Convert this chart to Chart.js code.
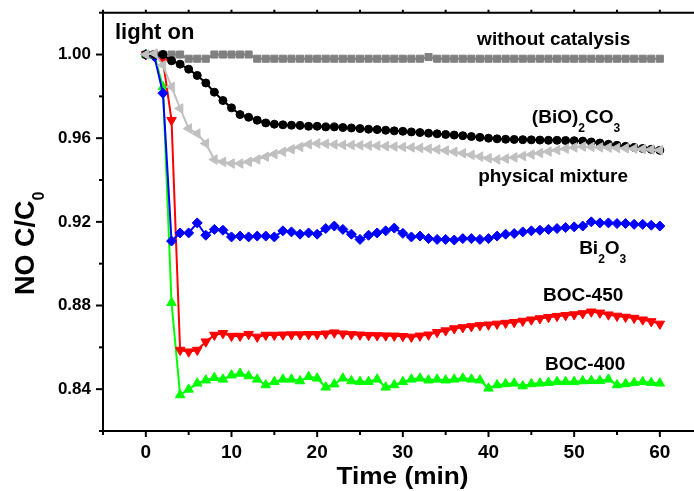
<!DOCTYPE html>
<html><head><meta charset="utf-8">
<script src="https://cdn.jsdelivr.net/npm/chart.js@4.4.1/dist/chart.umd.min.js"></script>
<style>html,body{margin:0;padding:0;background:#fff;overflow:hidden}canvas{display:block}</style>
</head><body>
<canvas id="c" width="694" height="491"></canvas>
<script>
const timeMin = [0,1,2,3,4,5,6,7,8,9,10,11,12,13,14,15,16,17,18,19,20,21,22,23,24,25,26,27,28,29,30,31,32,33,34,35,36,37,38,39,40,41,42,43,44,45,46,47,48,49,50,51,52,53,54,55,56,57,58,59,60];

const withoutCatalysis = [1.000,1.000,1.000,1.000,1.000,0.998,0.998,0.998,1.000,1.000,1.000,1.000,1.000,0.998,0.998,0.998,0.998,0.998,0.998,0.998,0.998,0.998,0.998,0.998,0.998,0.998,0.998,0.998,0.998,0.998,0.998,0.998,0.998,0.9988,0.998,0.998,0.998,0.998,0.998,0.998,0.998,0.998,0.998,0.998,0.998,0.998,0.998,0.998,0.998,0.998,0.998,0.998,0.998,0.998,0.998,0.998,0.998,0.998,0.998,0.998,0.998];

const bioCO3 = [1.000,1.000,1.000,0.997,0.9954,0.993,0.990,0.9864,0.982,0.978,0.9745,0.9713,0.970,0.9686,0.9673,0.9667,0.9664,0.9662,0.9661,0.9657,0.9657,0.9654,0.9654,0.9651,0.9649,0.9646,0.9643,0.9641,0.9638,0.9635,0.9633,0.963,0.9627,0.9624,0.9621,0.9618,0.9615,0.9612,0.9608,0.9604,0.960,0.9597,0.9595,0.9594,0.9593,0.9592,0.9591,0.959,0.959,0.9589,0.9588,0.9586,0.9582,0.9577,0.9571,0.9566,0.9561,0.9556,0.9551,0.9547,0.9542];

const physicalMixture = [1.000,1.0005,0.9949,0.9845,0.9742,0.9646,0.9622,0.9575,0.9498,0.9487,0.9479,0.9479,0.9487,0.9498,0.9511,0.9524,0.9535,0.9547,0.9558,0.9571,0.9575,0.9573,0.957,0.9568,0.9567,0.9566,0.9565,0.9564,0.9562,0.956,0.9558,0.9556,0.9553,0.955,0.9546,0.9541,0.9535,0.9528,0.952,0.9512,0.9504,0.9498,0.9502,0.9508,0.9515,0.9522,0.9529,0.9536,0.9543,0.955,0.9556,0.956,0.9558,0.9556,0.9555,0.9553,0.9552,0.955,0.9548,0.9546,0.9543];

const bi2o3 = [1.000,0.999,0.9815,0.9108,0.9147,0.9147,0.9195,0.9136,0.9164,0.916,0.9128,0.9132,0.9128,0.9132,0.9132,0.9128,0.9157,0.9152,0.9141,0.9147,0.9141,0.9168,0.918,0.9164,0.9141,0.9116,0.9136,0.9147,0.9157,0.917,0.9145,0.9128,0.9132,0.912,0.9116,0.9116,0.9113,0.912,0.912,0.9116,0.912,0.9132,0.9141,0.9144,0.9152,0.9157,0.916,0.9164,0.9168,0.9173,0.9176,0.918,0.920,0.9195,0.9195,0.9192,0.9192,0.9188,0.9188,0.9184,0.918];

const boc450 = [1.000,0.9995,0.997,0.9686,0.8587,0.8579,0.8587,0.8627,0.8659,0.8667,0.8654,0.8654,0.8663,0.865,0.8659,0.8659,0.866,0.8661,0.8661,0.8662,0.8662,0.8665,0.867,0.8665,0.8662,0.866,0.8658,0.8657,0.8656,0.8655,0.8653,0.865,0.8655,0.866,0.8672,0.868,0.869,0.8695,0.870,0.8705,0.8708,0.8712,0.8716,0.872,0.8726,0.8732,0.8738,0.8744,0.8749,0.8753,0.8757,0.8762,0.877,0.8765,0.8756,0.875,0.8745,0.874,0.8732,0.8724,0.8712];

const boc400 = [1.000,0.9995,0.9845,0.8813,0.8372,0.8399,0.8428,0.8443,0.8455,0.8447,0.8467,0.8475,0.8463,0.8447,0.842,0.8435,0.8447,0.8447,0.8439,0.8459,0.8452,0.8409,0.8424,0.8452,0.8439,0.8436,0.8436,0.8447,0.8409,0.842,0.8435,0.8447,0.8452,0.8443,0.8447,0.8443,0.8447,0.8452,0.8447,0.8443,0.8404,0.842,0.8425,0.8428,0.8415,0.8425,0.8428,0.8431,0.8435,0.8435,0.8435,0.8439,0.844,0.844,0.8447,0.842,0.8425,0.8431,0.8435,0.8431,0.8428];

const xTickValues = [0,10,20,30,40,50,60];
const xMinorValues = [-5,5,15,25,35,45,55];
const yTickValues = [0.84,0.88,0.92,0.96,1.00];
const yMinorValues = [0.82,0.86,0.90,0.94,0.98,1.02];

const FONT = '"Liberation Sans", Arial, Helvetica, sans-serif';

function pts(arr){ return timeMin.map((t,i)=>({x:t,y:arr[i]})); }

const labels = [
  {x:-3.6, y:1.0072, parts:[{t:'light on', s:22}]},
  {x:38.67, y:1.00445, parts:[{t:'without catalysis', s:19}]},
  {x:45.06, y:0.9673, parts:[{t:'(BiO)', s:19},{t:'2', s:12, d:9},{t:'CO', s:19},{t:'3', s:12, d:9}]},
  {x:38.79, y:0.93894, parts:[{t:'physical mixture', s:19}]},
  {x:50.58, y:0.9048, parts:[{t:'Bi', s:19},{t:'2', s:12, d:9},{t:'O', s:19},{t:'3', s:12, d:9}]},
  {x:46.37, y:0.88219, parts:[{t:'BOC-450', s:19}]},
  {x:46.61, y:0.84939, parts:[{t:'BOC-400', s:19}]}
];

const framePlugin = {
  id:'frame',
  afterDraw(chart){
    const {ctx, chartArea:a, scales:{x, y}} = chart;
    ctx.save();
    ctx.strokeStyle = '#000';
    ctx.lineWidth = 2;
    const seg = (x1,y1,x2,y2)=>{ctx.beginPath();ctx.moveTo(x1,y1);ctx.lineTo(x2,y2);ctx.stroke();};
    seg(a.left-1, a.top, chart.width, a.top);
    seg(a.right, a.bottom, chart.width, a.bottom);
    xTickValues.forEach(v=>{const p=x.getPixelForValue(v); seg(p,a.bottom,p,a.bottom+6); seg(p,a.top,p,a.top-3);});
    xMinorValues.forEach(v=>{const p=x.getPixelForValue(v); seg(p,a.bottom,p,a.bottom+4); seg(p,a.top,p,a.top-3);});
    yTickValues.forEach(v=>{const p=y.getPixelForValue(v); seg(a.left,p,a.left-7,p);});
    yMinorValues.forEach(v=>{const p=y.getPixelForValue(v); seg(a.left,p,a.left-4,p);});

    ctx.fillStyle = '#000';
    ctx.textBaseline = 'alphabetic';
    ctx.textAlign = 'left';
    labels.forEach(l=>{
      let px = x.getPixelForValue(l.x);
      const py = y.getPixelForValue(l.y);
      l.parts.forEach(p=>{
        ctx.font = 'bold ' + p.s + 'px ' + FONT;
        ctx.fillText(p.t, px, py + (p.d||0));
        px += ctx.measureText(p.t).width;
      });
    });

    ctx.save();
    ctx.font = 'bold 23px ' + FONT;
    ctx.textAlign = 'center';
    ctx.translate(402.5, 483.5);
    ctx.scale(1.14, 1);
    ctx.fillText('Time (min)', 0, 0);
    ctx.restore();

    ctx.save();
    ctx.translate(33.5, 295);
    ctx.rotate(-Math.PI/2);
    ctx.textAlign = 'left';
    ctx.font = 'bold 27px ' + FONT;
    const main = 'NO C/C';
    ctx.fillText(main, 0, 0);
    const w = ctx.measureText(main).width;
    ctx.font = 'bold 16px ' + FONT;
    ctx.fillText('0', w, 10);
    ctx.restore();

    ctx.restore();
  }
};

function ds(label, arr, color, style, rot, radius){
  return {
    label, data: pts(arr),
    borderColor: color, backgroundColor: color,
    pointBackgroundColor: color, pointBorderColor: color,
    borderWidth: 2, pointStyle: style, pointRotation: rot,
    pointRadius: radius, pointBorderWidth: 1, tension: 0
  };
}

new Chart(document.getElementById('c'), {
  type: 'line',
  data: {
    datasets: [
      ds('physical mixture', physicalMixture, '#c0c0c0', 'triangle', -90, 5.5),
      ds('(BiO)2CO3', bioCO3, '#000000', 'circle', 0, 4),
      ds('without catalysis', withoutCatalysis, '#808080', 'rect', 0, 5),
      ds('Bi2O3', bi2o3, '#0000ff', 'rectRot', 0, 5),
      ds('BOC-450', boc450, '#ff0000', 'triangle', 180, 5.5),
      ds('BOC-400', boc400, '#00ff00', 'triangle', 0, 5.5)
    ]
  },
  options: {
    responsive: false,
    animation: false,
    devicePixelRatio: 1,
    layout: { padding: { top: 12.7, left: 0, right: 0, bottom: 0 } },
    plugins: { legend: { display: false }, tooltip: { enabled: false } },
    scales: {
      x: {
        type: 'linear', min: -5, max: 63.23,
        afterBuildTicks: s => { s.ticks = xTickValues.map(v => ({ value: v })); },
        afterFit: s => { s.height = 60; s.paddingLeft = 0; s.paddingRight = 0; },
        grid: { display: false, drawTicks: false },
        border: { display: true, color: '#000', width: 2 },
        ticks: { padding: 10, color: '#000', font: { family: FONT, size: 19, weight: 'bold' }, maxRotation: 0, autoSkip: false }
      },
      y: {
        type: 'linear', min: 0.82, max: 1.02,
        afterBuildTicks: s => { s.ticks = yTickValues.map(v => ({ value: v })); },
        afterFit: s => { s.width = 103; s.paddingTop = 0; s.paddingBottom = 0; },
        grid: { display: false, drawTicks: false },
        border: { display: true, color: '#000', width: 2 },
        ticks: { padding: 12, color: '#000', font: { family: FONT, size: 17, weight: 'bold' }, autoSkip: false,
          callback: v => v.toFixed(2) }
      }
    }
  },
  plugins: [framePlugin]
});
</script>
</body></html>
